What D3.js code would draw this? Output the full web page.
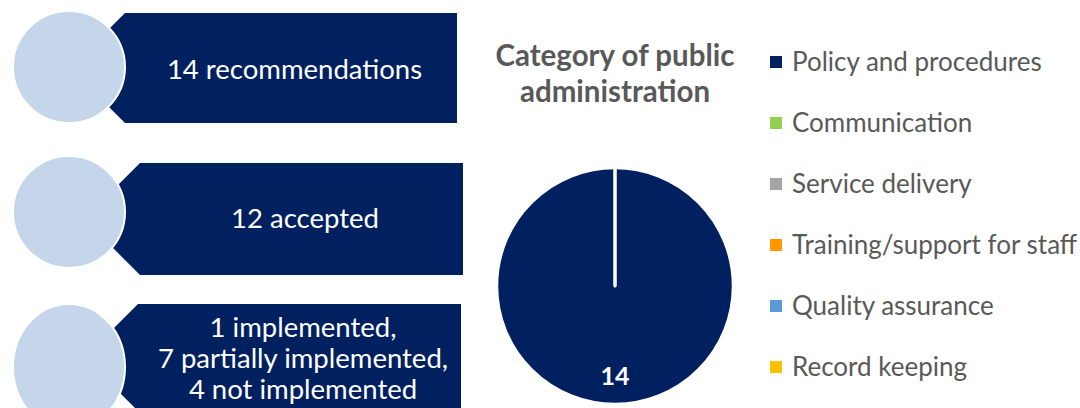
<!DOCTYPE html>
<html>
<head>
<meta charset="utf-8">
<script src="https://cdn.jsdelivr.net/npm/d3@7/dist/d3.min.js"></script>
<style>
  html, body { margin: 0; padding: 0; background: #fff; }
  svg { display: block; }
</style>
</head>
<body>
<svg id="chart" width="1080" height="408"></svg>
<script>
// Recommendation progress steps (one entry per banner, lines of text)
const stepLines = [
  ["14 recommendations"],
  ["12 accepted"],
  ["1 implemented,", "7 partially implemented,", "4 not implemented"]
];

// Pie: category of public administration
const chartTitle = ["Category of public", "administration"];
const categories = [
  "Policy and procedures",
  "Communication",
  "Service delivery",
  "Training/support for staff",
  "Quality assurance",
  "Record keeping"
];
const counts = [14, 0, 0, 0, 0, 0];
const categoryColors = ["#002060", "#92D050", "#A5A5A5", "#FF9900", "#5B9BD5", "#FFC000"];

const NAVY = "#002060";
const BUBBLE = "#C5D5EA";
const GREY_TEXT = "#595959";
const FONT = "Lato, 'Open Sans', sans-serif";

const svg = d3.select("#chart");

// ---- Left side: step banners with bubbles ----
const banners = [
  { top: 13,  bottom: 123, corner: 125, right: 457, cx: 69, cy: 67,  rx: 56, ry: 56, base: 79,  lh: 31 },
  { top: 163, bottom: 275, corner: 140, right: 463, cx: 69, cy: 212, rx: 56, ry: 56, base: 228, lh: 31 },
  { top: 304, bottom: 411, corner: 138, right: 461, cx: 69, cy: 367, rx: 56, ry: 63, base: 337, lh: 31 }
];

const poly = d3.line();
const steps = svg.append("g").attr("class", "steps")
  .selectAll("g").data(stepLines).join("g");

steps.append("path")
  .attr("fill", NAVY)
  .attr("d", (d, i) => {
    const b = banners[i];
    const mid = (b.top + b.bottom) / 2;
    const half = (b.bottom - b.top) / 2;
    return poly([
      [b.corner, b.top], [b.right, b.top], [b.right, b.bottom],
      [b.corner, b.bottom], [b.corner - half, mid]
    ]) + "Z";
  });

steps.append("ellipse")
  .attr("cx", (d, i) => banners[i].cx)
  .attr("cy", (d, i) => banners[i].cy)
  .attr("rx", (d, i) => banners[i].rx)
  .attr("ry", (d, i) => banners[i].ry)
  .attr("fill", BUBBLE)
  .attr("stroke", "#fff")
  .attr("stroke-width", 2);

steps.append("text")
  .attr("fill", "#fff")
  .attr("font-family", FONT)
  .attr("font-size", 27.5)
  .attr("text-anchor", "middle")
  .each(function (lines, i) {
    const b = banners[i];
    const cx = (b.corner + b.right) / 2 + 3.5;
    d3.select(this).selectAll("tspan").data(lines).join("tspan")
      .attr("x", cx)
      .attr("y", (l, j) => b.base + j * b.lh)
      .text(l => l);
  });

// ---- Pie chart ----
const pieCx = 615, pieCy = 286, radius = 118;

svg.append("text")
  .attr("fill", GREY_TEXT)
  .attr("font-family", FONT)
  .attr("font-weight", "bold")
  .attr("font-size", 29.5)
  .attr("text-anchor", "middle")
  .selectAll("tspan").data(chartTitle).join("tspan")
  .attr("x", pieCx)
  .attr("y", (d, i) => 66 + i * 36)
  .text(d => d);

const pieData = d3.pie().sort(null).value(d => d.value)(
  categories.map((c, i) => ({ name: c, value: counts[i], color: categoryColors[i] }))
);

const arc = d3.arc().innerRadius(0).outerRadius(radius);
const labelArc = d3.arc().innerRadius(radius * 0.755).outerRadius(radius * 0.755);

const pieG = svg.append("g").attr("transform", `translate(${pieCx},${pieCy})`);

pieG.selectAll("path").data(pieData).join("path")
  .attr("d", arc)
  .attr("fill", d => d.data.color)
  .attr("stroke", "#fff")
  .attr("stroke-width", 2.5)
  .attr("stroke-linejoin", "round");

pieG.selectAll("text").data(pieData.filter(d => d.data.value > 0)).join("text")
  .attr("transform", d => `translate(${labelArc.centroid(d)})`)
  .attr("text-anchor", "middle")
  .attr("dominant-baseline", "central")
  .attr("fill", "#fff")
  .attr("font-family", FONT)
  .attr("font-weight", "bold")
  .attr("font-size", 25)
  .text(d => d.data.value);

// ---- Legend ----
const legendY = d3.scalePoint().domain(categories).range([62, 367]);

const legend = svg.append("g").selectAll("g").data(categories).join("g")
  .attr("transform", d => `translate(770,${legendY(d)})`);

legend.append("rect")
  .attr("x", 0).attr("y", -6)
  .attr("width", 12).attr("height", 12)
  .attr("fill", (d, i) => categoryColors[i]);

legend.append("text")
  .attr("x", 22).attr("y", 8.5)
  .attr("fill", GREY_TEXT)
  .attr("font-family", FONT)
  .attr("font-size", 26)
  .text(d => d);
</script>
</body>
</html>
